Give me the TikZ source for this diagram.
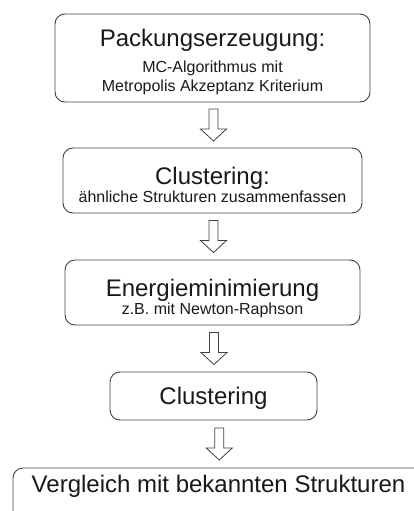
\documentclass[tikz,border=0pt]{standalone}
\usepackage{fontspec}
\setmainfont{Liberation Sans}
\usetikzlibrary{calc}
\begin{document}
\begin{tikzpicture}[x=1pt,y=-1pt,
  box/.style={draw=black!75, line width=0.9pt, rounded corners=10pt, inner sep=0pt},
  big/.style={font=\fontsize{24}{28}\selectfont, inner sep=0pt, anchor=base, text=black!90},
  small/.style={font=\fontsize{16}{19}\selectfont, inner sep=0pt, anchor=base, text=black!90},
  blockarrow/.style={draw=black!75, line width=0.8pt, fill=white, line join=miter}]
\useasboundingbox (0,0) rectangle (414,511);
\clip (0,0) rectangle (414,511);

% boxes
\node[box, minimum width=315pt, minimum height=88pt] (b1) at (212.5,58) {};
\node[box, minimum width=299pt, minimum height=65pt] (b2) at (212.5,180.5) {};
\node[box, minimum width=295pt, minimum height=65pt] (b3) at (212.5,292.5) {};
\node[box, minimum width=207pt, minimum height=48pt] (b4) at (213.5,396) {};
\node[box, minimum width=420pt, minimum height=70pt] (b5) at (223,503) {};

% texts
\node[big]   (t1a) at (212.5,47) {Packungserzeugung:};
\node[small] (t1b) at (212.5,73) {MC-Algorithmus mit};
\node[small] (t1c) at (212.5,91) {Metropolis Akzeptanz Kriterium};
\node[big]   (t2a) at (212.5,184) {Clustering:};
\node[small] (t2b) at (212.5,202) {ähnliche Strukturen zusammenfassen};
\node[big]   (t3a) at (212.5,296) {Energieminimierung};
\node[small] (t3b) at (212.5,314) {z.B. mit Newton-Raphson};
\node[big]   (t4a) at (213.5,404) {Clustering};
\node[big]   (t5a) at (218.5,492) {Vergleich mit bekannten Strukturen};

% block arrows
\foreach \a/\b in {b1/b2, b2/b3, b3/b4, b4/b5}{
  \coordinate (m) at ($(\a.south)!0.5!(\b.north)$);
  \draw[blockarrow] ($(m)+(-3.5,-16)$) -- ++(0,20) -- ++(-8.5,0) -- ++(13,12)
    -- ++(13,-12) -- ++(-8.5,0) -- ++(0,-20) -- cycle;
}
\end{tikzpicture}
\end{document}
